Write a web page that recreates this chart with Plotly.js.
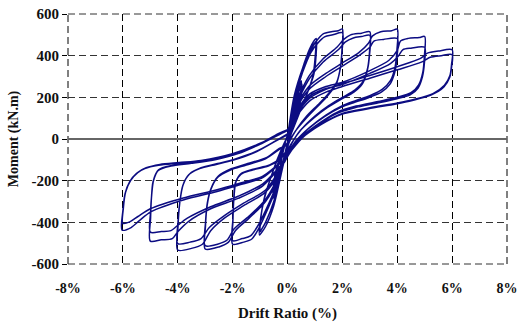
<!DOCTYPE html>
<html>
<head>
<meta charset="utf-8">
<script src="https://cdn.plot.ly/plotly-3.0.1.min.js"></script>
<style>html,body{margin:0;padding:0;background:#fff;}#chart{width:518px;height:327px;}</style>
</head>
<body>
<div id="chart"></div>
<script>
// Tick labels
const xTickVals = [-8, -6, -4, -2, 0, 2, 4, 6, 8];
const xTickText = ['-8%', '-6%', '-4%', '-2%', '0%', '2%', '4%', '6%', '8%'];
const yTickVals = [-600, -400, -200, 0, 200, 400, 600];
const yTickText = ['-600', '-400', '-200', '0', '200', '400', '600'];

// Hysteresis cycles (drift %, moment kN.m)
const c025aX = [0, 0.12, 0.25, 0.22, 0.12, 0.02, -0.12, -0.25, -0.22, -0.12, -0.02];
const c025aY = [0, 80, 150, 100, 40, -10, -85, -155, -100, -40, 10];
const c025bX = [0.02, 0.13, 0.26, 0.23, 0.13, 0.03, -0.11, -0.26, -0.23, -0.13, -0.03];
const c025bY = [10, 75, 140, 90, 35, -15, -80, -145, -95, -35, 0];

const c05aX = [0, 0.15, 0.32, 0.5, 0.47, 0.38, 0.25, 0.1, 0, -0.15, -0.32, -0.5, -0.47, -0.38, -0.25, -0.1, 0];
const c05aY = [0, 110, 200, 280, 210, 150, 90, 20, -15, -110, -200, -285, -215, -150, -85, -20, 10];
const c05bX = [0, 0.15, 0.33, 0.52, 0.49, 0.4, 0.27, 0.11, 0, -0.15, -0.33, -0.52, -0.49, -0.4, -0.26, -0.1, 0];
const c05bY = [10, 100, 190, 265, 195, 140, 80, 15, -20, -105, -190, -270, -200, -140, -80, -15, 5];

const c1aX = [0, 0.25, 0.55, 0.8, 0.95, 1.05, 1.04, 0.96, 0.75, 0.5, 0.25, 0.05, -0.2, -0.5, -0.8, -0.95, -1.02, -0.98, -0.85, -0.65, -0.4, -0.15, 0];
const c1aY = [5, 210, 340, 430, 468, 482, 400, 310, 230, 150, 70, 0, -150, -320, -420, -450, -461, -380, -290, -200, -110, -30, 10];
const c1bX = [0, 0.25, 0.55, 0.8, 0.95, 1.02, 1.0, 0.92, 0.72, 0.48, 0.24, 0.05, -0.2, -0.5, -0.8, -0.95, -1.0, -0.96, -0.83, -0.62, -0.38, -0.14, 0];
const c1bY = [10, 190, 320, 410, 450, 462, 380, 300, 220, 140, 60, -5, -140, -300, -400, -435, -445, -365, -275, -190, -100, -25, 10];

const c2aX = [0, 0.25, 0.55, 0.85, 1.1, 1.3, 1.6, 1.85, 2.0, 1.99, 1.93, 1.8, 1.45, 1.1, 0.7, 0.35, 0.05, -0.3, -0.7, -1.05, -1.3, -1.6, -2.0, -1.99, -1.96, -1.9, -1.7, -1.3, -0.7, -0.3, 0];
const c2aY = [10, 210, 340, 435, 478, 505, 515, 520, 528, 440, 345, 275, 211, 163, 110, 50, -20, -200, -330, -430, -480, -495, -505, -400, -290, -210, -170, -150, -130, -100, -60];
const c2bX = [0, 0.25, 0.55, 0.85, 1.1, 1.35, 1.65, 2.0, 1.99, 1.92, 1.78, 1.42, 1.05, 0.65, 0.3, 0.02, -0.3, -0.7, -1.05, -1.35, -1.65, -2.0, -1.99, -1.95, -1.88, -1.68, -1.25, -0.65, -0.25, 0];
const c2bY = [-60, 190, 320, 415, 460, 490, 500, 510, 425, 335, 265, 200, 150, 95, 40, -25, -190, -315, -410, -465, -478, -488, -385, -280, -205, -165, -145, -125, -90, -50];

const c3aX = [0, 0.1, 0.3, 0.8, 1.3, 1.8, 2.05, 2.3, 2.7, 3.0, 2.99, 2.92, 2.75, 2.45, 2.0, 1.5, 1.0, 0.5, 0.1, -0.1, -0.3, -0.8, -1.4, -1.9, -2.15, -2.5, -3.0, -2.99, -2.93, -2.8, -2.55, -2.1, -1.5, -0.8, -0.3, 0];
const c3aY = [-50, 40, 170, 305, 385, 440, 478, 500, 508, 515, 420, 340, 275, 235, 200, 160, 110, 45, -30, -90, -180, -300, -380, -440, -495, -518, -528, -420, -320, -245, -185, -150, -125, -95, -50, -20];
const c3bX = [0, 0.1, 0.3, 0.8, 1.3, 1.85, 2.1, 2.4, 2.7, 3.0, 2.99, 2.91, 2.73, 2.42, 1.95, 1.45, 0.95, 0.45, 0.1, -0.1, -0.3, -0.8, -1.4, -1.95, -2.2, -2.55, -3.0, -2.99, -2.92, -2.78, -2.52, -2.05, -1.45, -0.75, -0.3, 0];
const c3bY = [-20, 30, 155, 290, 370, 428, 465, 485, 492, 498, 405, 330, 265, 225, 190, 150, 100, 38, -35, -95, -170, -290, -370, -432, -485, -505, -512, -405, -305, -235, -178, -143, -118, -88, -45, -30];

const c4aX = [0, 0.1, 0.3, 0.8, 1.4, 2.0, 2.6, 2.95, 3.1, 3.4, 3.8, 4.0, 3.99, 3.92, 3.75, 3.45, 3.0, 2.5, 2.0, 1.4, 0.8, 0.3, 0.05, -0.1, -0.3, -0.8, -1.6, -2.3, -2.8, -3.1, -3.5, -4.0, -3.99, -3.93, -3.82, -3.6, -3.2, -2.6, -2.0, -1.2, -0.5, 0];
const c4aY = [-30, 30, 150, 255, 315, 365, 415, 460, 495, 515, 520, 527, 430, 345, 280, 238, 208, 185, 160, 115, 55, -10, -60, -90, -160, -255, -320, -380, -440, -505, -525, -533, -420, -310, -225, -172, -142, -122, -102, -65, -15, 20];
const c4bX = [0, 0.1, 0.3, 0.8, 1.4, 2.0, 2.6, 3.0, 3.15, 3.5, 4.0, 3.99, 3.91, 3.73, 3.42, 2.95, 2.45, 1.95, 1.35, 0.75, 0.3, 0.05, -0.1, -0.3, -0.8, -1.6, -2.3, -2.85, -3.15, -3.55, -4.0, -3.99, -3.92, -3.8, -3.57, -3.15, -2.55, -1.95, -1.15, -0.45, 0];
const c4bY = [20, 35, 140, 240, 300, 350, 400, 440, 470, 478, 482, 395, 320, 262, 225, 198, 176, 152, 108, 48, -15, -65, -95, -150, -245, -308, -368, -425, -478, -495, -502, -400, -298, -218, -168, -138, -118, -98, -60, -10, 25];

const c5aX = [0, 0.1, 0.3, 0.8, 1.4, 2.0, 3.0, 3.7, 4.0, 4.12, 4.4, 4.8, 5.0, 4.99, 4.93, 4.78, 4.5, 4.0, 3.3, 2.5, 1.8, 1.2, 0.6, 0.2, 0, -0.1, -0.3, -0.9, -1.8, -2.8, -3.6, -4.0, -4.2, -4.6, -5.0, -4.99, -4.96, -4.9, -4.72, -4.25, -3.5, -2.6, -1.8, -1.0, -0.4, 0];
const c5aY = [25, 60, 130, 215, 252, 272, 328, 378, 425, 470, 483, 487, 492, 400, 320, 260, 222, 200, 180, 158, 128, 80, 20, -40, -80, -110, -140, -225, -285, -335, -395, -445, -478, -484, -490, -380, -285, -205, -152, -130, -117, -98, -70, -25, 15, 40];
const c5bX = [0, 0.1, 0.3, 0.8, 1.4, 2.0, 3.0, 3.75, 4.05, 4.2, 4.5, 5.0, 4.99, 4.92, 4.76, 4.47, 3.95, 3.25, 2.45, 1.75, 1.15, 0.55, 0.2, 0, -0.1, -0.3, -0.9, -1.8, -2.8, -3.65, -4.05, -4.25, -4.6, -5.0, -4.99, -4.95, -4.88, -4.7, -4.2, -3.45, -2.55, -1.75, -0.95, -0.35, 0];
const c5bY = [40, 55, 120, 205, 242, 262, 315, 362, 400, 428, 436, 440, 365, 300, 245, 212, 192, 172, 150, 120, 72, 12, -45, -85, -108, -135, -215, -275, -325, -380, -420, -440, -444, -447, -350, -268, -198, -148, -127, -114, -95, -66, -20, 18, 42];

const c6aX = [0, 0.1, 0.3, 0.8, 1.4, 2.0, 3.0, 4.0, 4.85, 5.1, 5.5, 6.0, 5.98, 5.92, 5.72, 5.3, 4.6, 4.0, 3.0, 2.0, 1.3, 0.7, 0.3, 0, -0.1, -0.3, -0.9, -1.8, -2.6, -3.8, -4.97, -5.4, -5.7, -6.03, -6.0, -5.92, -5.75, -5.5, -5.2, -4.7, -4.0, -3.2, -2.0, -1.0, -0.3, 0];
const c6aY = [40, 70, 115, 195, 238, 265, 305, 347, 387, 412, 422, 428, 360, 305, 258, 218, 190, 173, 150, 123, 78, 25, -30, -80, -100, -120, -185, -222, -253, -293, -349, -392, -425, -437, -345, -262, -205, -165, -142, -126, -117, -108, -72, -22, 25, 45];
const c6bX = [0, 0.1, 0.3, 0.8, 1.4, 2.0, 3.0, 4.0, 4.9, 5.2, 5.6, 6.0, 5.98, 5.91, 5.7, 5.25, 4.55, 3.95, 2.95, 1.95, 1.25, 0.65, 0.25, 0, -0.1, -0.3, -0.9, -1.8, -2.6, -3.8, -5.0, -5.45, -5.75, -6.0, -5.98, -5.9, -5.72, -5.45, -5.15, -4.65, -3.95, -3.15, -1.95, -0.95, -0.3, 0];
const c6bY = [45, 65, 105, 182, 225, 252, 292, 332, 370, 392, 400, 405, 345, 295, 250, 212, 185, 168, 145, 118, 72, 18, -35, -85, -102, -118, -178, -215, -245, -283, -335, -372, -398, -405, -330, -255, -200, -160, -138, -122, -113, -103, -68, -18, 28, 45];

const cyclesX = [c025aX, c025bX, c05aX, c05bX, c1aX, c1bX, c2aX, c2bX, c3aX, c3bX, c4aX, c4bX, c5aX, c5bX, c6aX, c6bX];
const cyclesY = [c025aY, c025bY, c05aY, c05bY, c1aY, c1bY, c2aY, c2bY, c3aY, c3bY, c4aY, c4bY, c5aY, c5bY, c6aY, c6bY];

const allX = [].concat(...cyclesX);
const allY = [].concat(...cyclesY);

const fontFam = '"Liberation Serif", "Times New Roman", serif';
const dashPat = '7px,4px';

const trace = {
  x: allX, y: allY, type: 'scatter', mode: 'lines',
  line: {color: '#0c0c82', width: 1.5, shape: 'spline', smoothing: 0.8},
  hoverinfo: 'skip', showlegend: false
};

// dashed frame around the plot area (edge grid lines)
const frame = [
  {type: 'line', xref: 'paper', yref: 'paper', x0: 0, x1: 0, y0: 0, y1: 1, layer: 'below', line: {color: '#000', width: 1, dash: dashPat}},
  {type: 'line', xref: 'paper', yref: 'paper', x0: 1, x1: 1, y0: 0, y1: 1, layer: 'below', line: {color: '#000', width: 1, dash: dashPat}},
  {type: 'line', xref: 'paper', yref: 'paper', x0: 0, x1: 1, y0: 1, y1: 1, layer: 'below', line: {color: '#333', width: 1, dash: dashPat}},
  {type: 'line', xref: 'paper', yref: 'paper', x0: 0, x1: 1, y0: 0, y1: 0, layer: 'below', line: {color: '#333', width: 1, dash: dashPat}}
];

const layout = {
  width: 518, height: 327,
  margin: {l: 68, r: 11, t: 14, b: 63},
  paper_bgcolor: '#fff', plot_bgcolor: '#fff',
  font: {family: fontFam, size: 15, color: '#111', weight: 'bold'},
  shapes: frame,
  xaxis: {
    range: [-8, 8], tickmode: 'array', tickvals: xTickVals, ticktext: xTickText,
    showgrid: true, gridcolor: '#000', griddash: dashPat, gridwidth: 1,
    zeroline: true, zerolinecolor: '#000', zerolinewidth: 1.3,
    showline: false, ticks: 'outside', ticklen: 11, tickcolor: 'rgba(0,0,0,0)',
    tickfont: {family: fontFam, size: 14, weight: 'bold', color: '#111'},
    title: {text: 'Drift Ratio (%)', font: {family: fontFam, size: 15, weight: 'bold', color: '#111'}, standoff: 12},
    fixedrange: true
  },
  yaxis: {
    range: [-600, 600], tickmode: 'array', tickvals: yTickVals, ticktext: yTickText,
    showgrid: true, gridcolor: '#333', griddash: dashPat, gridwidth: 1,
    zeroline: true, zerolinecolor: '#666', zerolinewidth: 1.6,
    showline: false, ticks: 'outside', ticklen: 5, tickcolor: '#000', tickwidth: 1,
    tickfont: {family: fontFam, size: 15, weight: 'bold', color: '#111'},
    title: {text: 'Moment (kN.m)', font: {family: fontFam, size: 14, weight: 'bold', color: '#111'}, standoff: 9},
    fixedrange: true
  }
};

Plotly.newPlot('chart', [trace], layout, {displayModeBar: false, staticPlot: true});
</script>
</body>
</html>
